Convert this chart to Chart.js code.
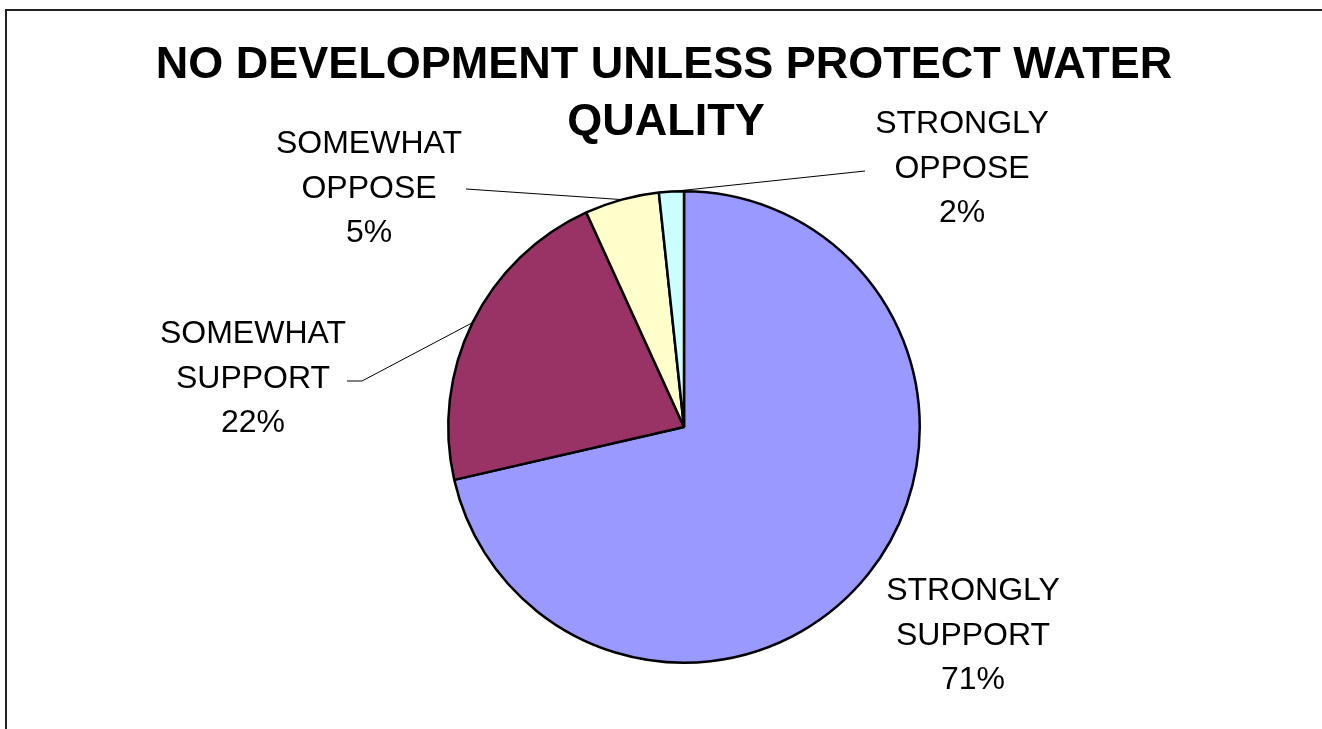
<!DOCTYPE html>
<html>
<head>
<meta charset="utf-8">
<script src="https://cdn.jsdelivr.net/npm/chart.js@4/dist/chart.umd.min.js"></script>
<style>
  html, body { margin: 0; padding: 0; background: #fff; }
  canvas { display: block; }
</style>
</head>
<body>
<canvas id="myChart" width="1322" height="729"></canvas>
<script>
// data (shares of respondents, %)
const categories = ['STRONGLY SUPPORT', 'SOMEWHAT SUPPORT', 'SOMEWHAT OPPOSE', 'STRONGLY OPPOSE'];
const shares = [71.4, 21.8, 5.1, 1.7];
const sliceColors = ['#9999FF', '#993366', '#FFFFCC', '#CCFFFF'];
const titleLines = ['NO DEVELOPMENT UNLESS PROTECT WATER', 'QUALITY'];

// where each label sits (center x, first baseline) and where its leader starts
const labelLayout = [
    { x: 973, y: 600, leader: null },
    { x: 253, y: 343, leader: [[347, 381], [362, 381]] },
    { x: 369, y: 153, leader: [[466, 189]] },
    { x: 962, y: 133, leader: [[865, 171]] }
];

const FONT = '"Liberation Sans", Arial, sans-serif';

const annotate = {
    id: 'annotate',
    afterDraw(chart) {
        const ctx = chart.ctx;
        ctx.save();

        // frame (only top and left edges are in view)
        ctx.strokeStyle = '#222';
        ctx.lineWidth = 2;
        ctx.beginPath();
        ctx.moveTo(6, chart.height);
        ctx.lineTo(6, 10);
        ctx.lineTo(chart.width, 10);
        ctx.stroke();

        // title
        ctx.fillStyle = '#000';
        ctx.textAlign = 'center';
        ctx.textBaseline = 'alphabetic';
        ctx.font = 'bold 45px ' + FONT;
        ctx.fillText(titleLines[0], 664, 78);
        ctx.fillText(titleLines[1], 666, 135);

        // labels + leader lines
        const total = shares.reduce((a, b) => a + b, 0);
        const arcs = chart.getDatasetMeta(0).data;
        ctx.font = '32px ' + FONT;
        labelLayout.forEach((lab, i) => {
            const words = categories[i].split(' ');
            const pct = Math.round(shares[i] / total * 100) + '%';
            const lines = [words[0], words[1], pct];
            lines.forEach((t, k) => ctx.fillText(t, lab.x, lab.y + k * 44.5));

            if (lab.leader) {
                const a = arcs[i];
                const mid = (a.startAngle + a.endAngle) / 2;
                const ex = a.x + Math.cos(mid) * a.outerRadius;
                const ey = a.y + Math.sin(mid) * a.outerRadius;
                ctx.strokeStyle = '#000';
                ctx.lineWidth = 1;
                ctx.beginPath();
                ctx.moveTo(lab.leader[0][0], lab.leader[0][1]);
                for (let p = 1; p < lab.leader.length; p++) {
                    ctx.lineTo(lab.leader[p][0], lab.leader[p][1]);
                }
                ctx.lineTo(ex, ey);
                ctx.stroke();
            }
        });
        ctx.restore();
    }
};

const config = {
    type: 'pie',
    data: {
        labels: categories,
        datasets: [{
            data: shares,
            backgroundColor: sliceColors,
            borderColor: '#000',
            borderWidth: 2.5,
            hoverOffset: 0
        }]
    },
    options: {
        responsive: false,
        animation: false,
        layout: {
            padding: { top: 189, bottom: 64, left: 447, right: 401 }
        },
        plugins: {
            legend: { display: false },
            title: { display: false },
            tooltip: { enabled: false }
        }
    },
    plugins: [annotate]
};

const ctx = document.getElementById('myChart').getContext('2d');
const myChart = new Chart(ctx, config);
</script>
</body>
</html>
